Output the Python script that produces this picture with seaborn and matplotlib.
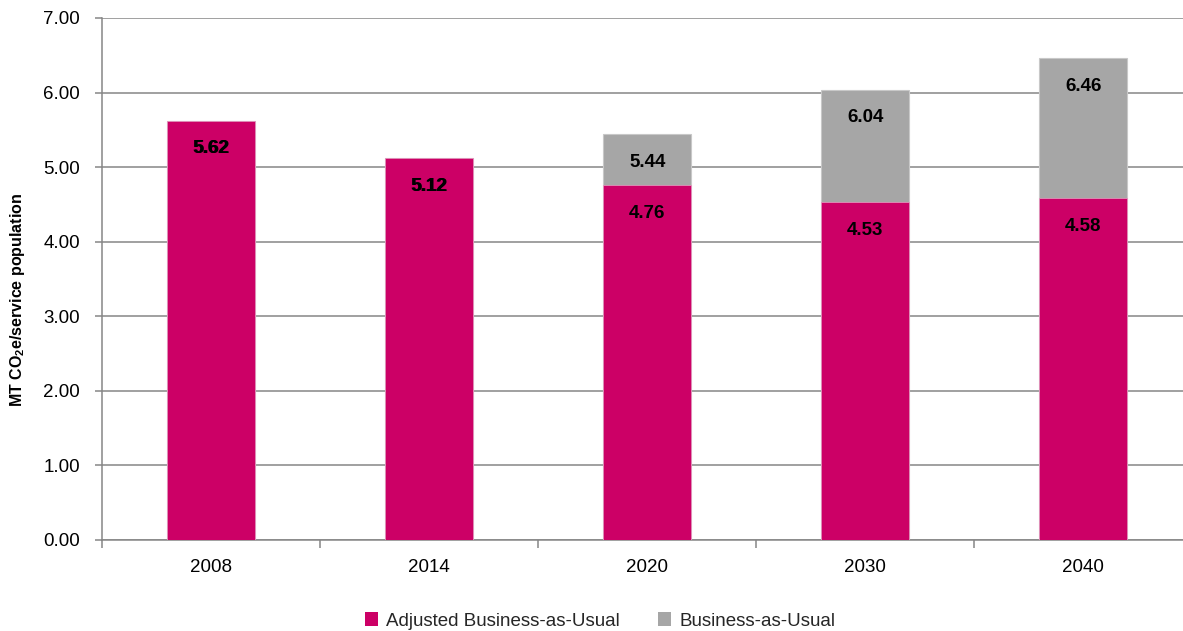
import matplotlib
matplotlib.use("Agg")
import matplotlib.pyplot as plt
from matplotlib.patches import Patch
from matplotlib.ticker import FixedLocator
import pandas as pd
import seaborn as sns

# Emissions per service population (MT CO2e)
years = ["2008", "2014", "2020", "2030", "2040"]
bau = [5.62, 5.12, 5.44, 6.04, 6.46]
adjusted_bau = [5.62, 5.12, 4.76, 4.53, 4.58]
y_ticks = [0, 1, 2, 3, 4, 5, 6, 7]

MAGENTA = "#CC0066"
GREY = "#A6A6A6"
AXIS_GREY = "#868686"

sns.set_theme(style="white")
plt.rcParams["font.family"] = ["Liberation Sans", "DejaVu Sans"]
plt.rcParams["mathtext.fontset"] = "custom"
plt.rcParams["mathtext.bf"] = "Liberation Sans:bold"
plt.rcParams["mathtext.rm"] = "Liberation Sans:bold"

df = pd.DataFrame({"year": years, "bau": bau, "adjusted": adjusted_bau})

W, H = 1183, 631
fig = plt.figure(figsize=(W / 100, H / 100), dpi=100)
ax = fig.add_axes([102 / W, 91 / H, 1090 / W, 522 / H])

FS = 13.5

sns.barplot(data=df, x="year", y="bau", order=years, color=GREY,
            width=0.40, saturation=1, edgecolor="#C8C8C8", linewidth=0.8,
            ax=ax, zorder=3)
sns.barplot(data=df, x="year", y="adjusted", order=years, color=MAGENTA,
            width=0.40, saturation=1, edgecolor="#E8A0C4", linewidth=0.5,
            ax=ax, zorder=4)

# value labels just inside the top of each bar
for i, v in enumerate(bau):
    ax.annotate(f"{v:.2f}", xy=(i, v), xytext=(0.7, -20.2),
                textcoords="offset points", ha="center", va="center",
                fontsize=FS, fontweight="bold", color="black", zorder=6)
for i, v in enumerate(adjusted_bau):
    ax.annotate(f"{v:.2f}", xy=(i, v), xytext=(0, -20.2),
                textcoords="offset points", ha="center", va="center",
                fontsize=FS, fontweight="bold", color="black", zorder=6)

ax.set_ylim(0, 7)
ax.set_xlim(-0.5, 4.5)
ax.yaxis.set_major_locator(FixedLocator(y_ticks))
ax.set_yticklabels([f"{t:.2f}" for t in y_ticks], fontsize=FS, color="black")
ax.grid(axis="y", color=AXIS_GREY, linewidth=1.1, zorder=0)
ax.grid(axis="x", visible=False)
ax.set_axisbelow(True)

ax.xaxis.set_minor_locator(FixedLocator([-0.5, 0.5, 1.5, 2.5, 3.5, 4.5]))
ax.tick_params(axis="x", which="major", length=0, pad=14, labelsize=FS,
               labelcolor="black")
ax.tick_params(axis="x", which="minor", length=6, width=1.1,
               color=AXIS_GREY, direction="out", bottom=True)
ax.tick_params(axis="y", length=5, width=1.1, color=AXIS_GREY,
               direction="out", left=True, pad=11)

for side in ["top", "right"]:
    ax.spines[side].set_visible(False)
for side in ["left", "bottom"]:
    ax.spines[side].set_color(AXIS_GREY)
    ax.spines[side].set_linewidth(1.1)

ax.set_xlabel("")
ax.set_ylabel(r"MT CO$_\mathbf{2}$e/service population", fontsize=11.5,
              fontweight="bold", color="black", va="center")
ax.yaxis.set_label_coords(-84 / 1090, 0.46)

handles = [Patch(facecolor=MAGENTA, edgecolor="none", label="Adjusted Business-as-Usual"),
           Patch(facecolor=GREY, edgecolor="none", label="Business-as-Usual")]
fig.legend(handles=handles, loc="center", bbox_to_anchor=(600 / W, 10 / H),
           ncol=2, frameon=False, fontsize=FS, handlelength=0.7,
           handleheight=0.7, handletextpad=0.45, columnspacing=2.0)

fig.savefig("out.png", dpi=100)
